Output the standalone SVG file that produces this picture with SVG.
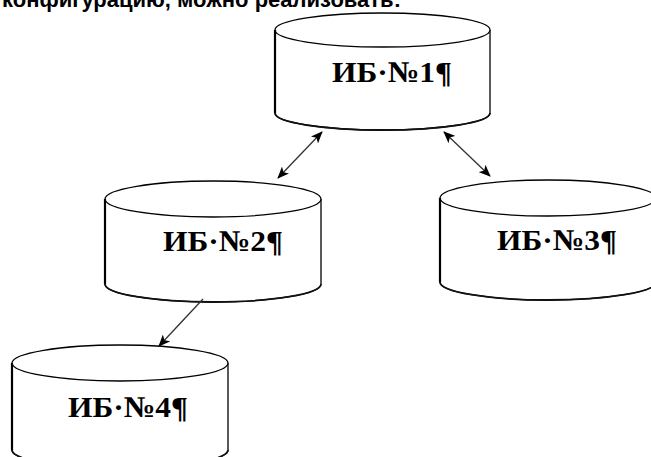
<svg xmlns="http://www.w3.org/2000/svg" width="651" height="457" viewBox="0 0 651 457">
<defs>
<style>
.cyl{fill:#fff;stroke:#000;stroke-width:1.3}
.edge{fill:none;stroke:#000;stroke-width:2.2}
.bot{fill:none;stroke:#111;stroke-width:1.8}
.lbl{font-family:"Liberation Serif","Times New Roman",serif;font-size:30px;font-weight:bold;fill:#000}
.head{font-family:"Liberation Sans",Arial,sans-serif;font-size:22px;font-weight:bold;fill:#000}
.con{fill:none;stroke:#333;stroke-width:1.3}
</style>
<marker id="ah" viewBox="0 0 12 10" refX="11" refY="5" markerWidth="12" markerHeight="10" markerUnits="userSpaceOnUse" orient="auto-start-reverse">
<path d="M0,0 L12,5 L0,10 L3,5 z" fill="#000"/>
</marker>
</defs>
<rect width="651" height="457" fill="#fff"/>
<text class="head" x="2" y="7">конфигурацию, можно реализовать:</text>

<g id="node1">
<path class="cyl" d="M275,30 L275,113 A107.5,17 0 0 0 490,113 L490,30"/>
<ellipse class="cyl" cx="382.5" cy="30" rx="107.5" ry="17"/>
<line class="edge" x1="275" y1="30" x2="275" y2="113"/>
<path class="bot" d="M275,113 A107.5,17 0 0 0 490,113"/>
<text class="lbl" x="332" y="82" textLength="120" lengthAdjust="spacingAndGlyphs">ИБ·№1¶</text>
</g>

<g id="node2">
<path class="cyl" d="M105,199 L105,284 A108,18 0 0 0 321,284 L321,199"/>
<ellipse class="cyl" cx="213" cy="199" rx="108" ry="18"/>
<line class="edge" x1="105" y1="199" x2="105" y2="284"/>
<path class="bot" d="M105,284 A108,18 0 0 0 321,284"/>
<text class="lbl" x="163" y="251" textLength="120" lengthAdjust="spacingAndGlyphs">ИБ·№2¶</text>
</g>

<g id="node3">
<path class="cyl" d="M440,198 L440,282 A108,18 0 0 0 656,282 L656,198"/>
<ellipse class="cyl" cx="548" cy="198" rx="108" ry="18"/>
<line class="edge" x1="440" y1="198" x2="440" y2="282"/>
<path class="bot" d="M440,282 A108,18 0 0 0 656,282"/>
<text class="lbl" x="497" y="250" textLength="120" lengthAdjust="spacingAndGlyphs">ИБ·№3¶</text>
</g>

<g id="node4">
<path class="cyl" d="M12,363 L12,450 A108,18 0 0 0 228,450 L228,363"/>
<ellipse class="cyl" cx="120" cy="363" rx="108" ry="18"/>
<line class="edge" x1="12" y1="363" x2="12" y2="450"/>
<path class="bot" d="M12,450 A108,18 0 0 0 228,450"/>
<text class="lbl" x="68" y="417" textLength="120" lengthAdjust="spacingAndGlyphs">ИБ·№4¶</text>
</g>

<g id="connectors">
<line class="con" x1="322" y1="132" x2="278" y2="178" marker-start="url(#ah)" marker-end="url(#ah)"/>
<line class="con" x1="444" y1="132" x2="490" y2="176" marker-start="url(#ah)" marker-end="url(#ah)"/>
<line class="con" x1="203" y1="299" x2="159" y2="346" marker-end="url(#ah)"/>
</g>
</svg>
